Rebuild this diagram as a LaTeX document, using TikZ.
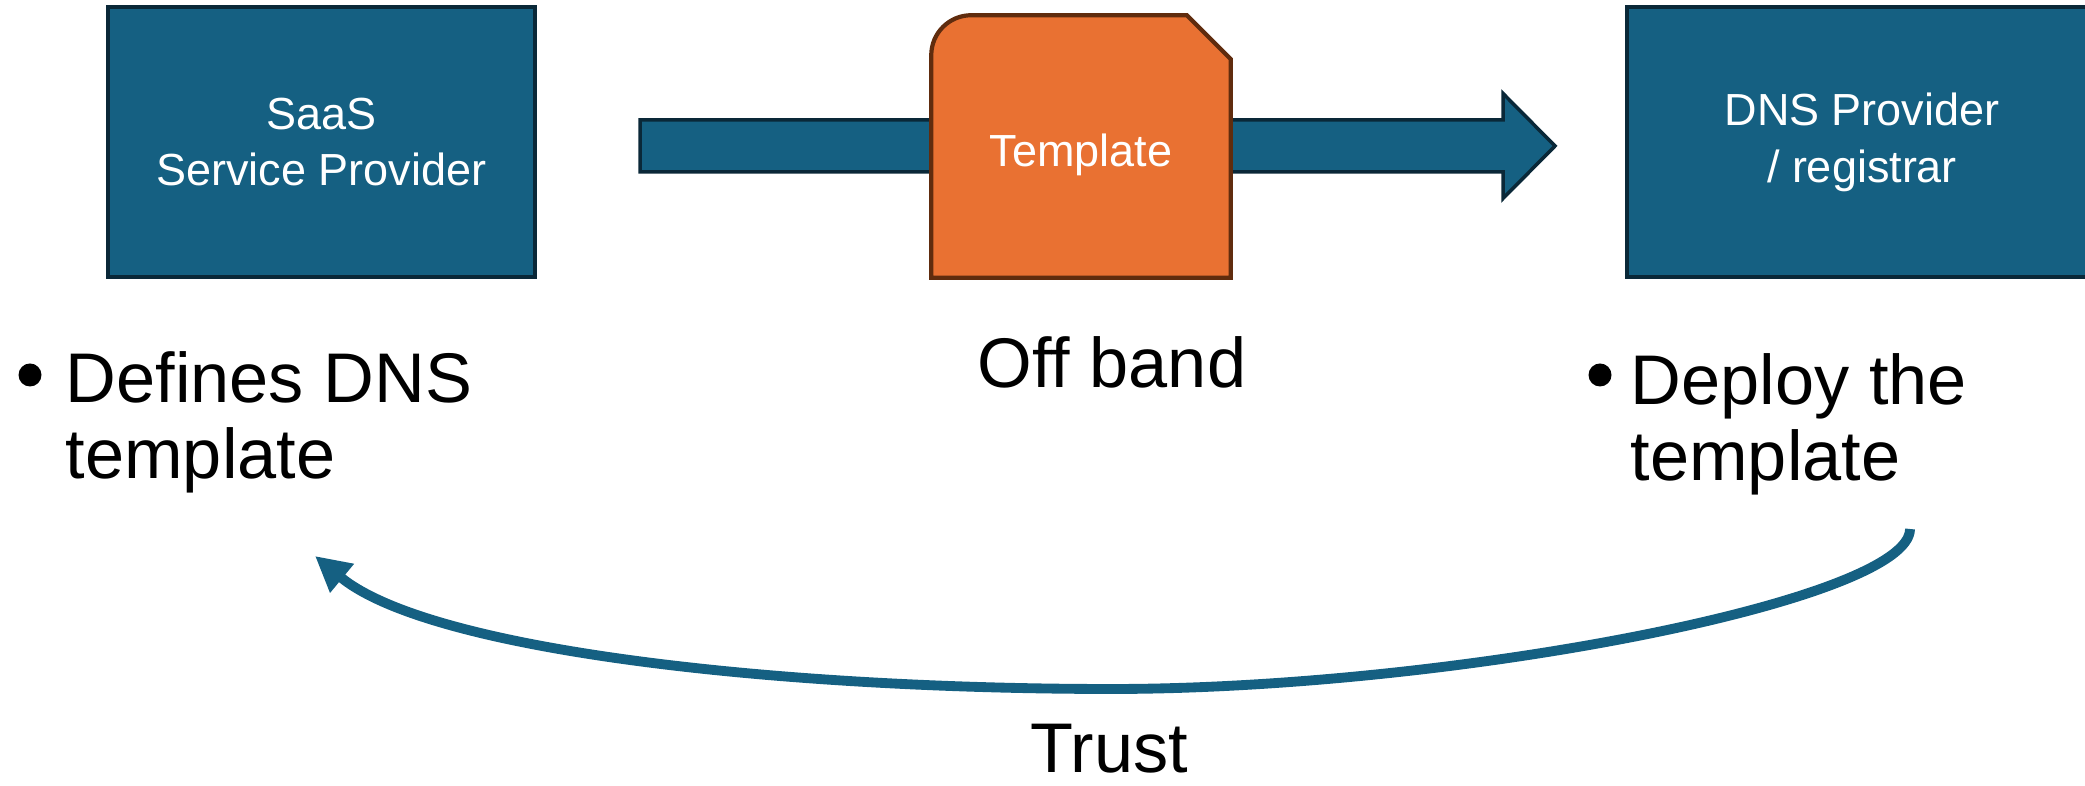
\documentclass[tikz,border=0pt]{standalone}
\usepackage{fontspec}
\setmainfont{Liberation Sans}
\usepackage{tikz}
\usetikzlibrary{
  arrows.meta,
  positioning,
  calc
}
\definecolor{saas_blue}{RGB}{21, 96, 130}
\definecolor{edge_navy}{RGB}{10, 40, 56}
\definecolor{tmpl_orange}{RGB}{233, 113, 50}
\definecolor{tmpl_brown}{RGB}{96, 44, 14}

\begin{document}
\begin{tikzpicture}[
    % Styles
    font=\fontsize{12.8}{16.2}\selectfont,
    line width=1pt,
    % Blocks
    block/.style={
        rectangle,
        draw=edge_navy,
        fill=saas_blue,
        text=white,
        align=center,
        minimum height=2.70cm,
        inner sep=0pt
    },
    doc_frame/.style={
        rectangle,
        minimum width=2.96cm,
        minimum height=2.59cm,
        inner sep=0pt
    },
    doc_outline/.style={
        draw=tmpl_brown,
        fill=tmpl_orange,
        line width=1.2pt
    },
    flow_body/.style={
        draw=edge_navy,
        fill=saas_blue
    },
    note/.style={
        font=\fontsize{20}{21.5}\selectfont,
        align=left,
        inner sep=0pt
    },
    bullet_dot/.style={
        circle,
        fill=black,
        minimum size=0.23cm,
        inner sep=0pt
    },
    trust_line/.style={
        saas_blue,
        line width=2.8pt,
        -{Triangle[length=10pt, width=10pt]}
    }
]
\useasboundingbox (0,0) rectangle (20.85,7.86);

% --- LAYOUT ---

% 1. Parties (top left / top right)
\node[block, minimum width=4.27cm] (saas) at (3.215,6.44) {SaaS\\Service Provider};
\node[block, minimum width=4.70cm] (dns) at (18.62,6.44) {DNS Provider\\/ registrar};

% 2. Hand-over arrow (drawn under the template)
\coordinate (flow_start) at (6.40,6.40);
\coordinate (flow_tip) at (15.55,6.40);
\draw[flow_body] ($(flow_start)+(0,0.26)$) -- ($(flow_tip)+(-0.52,0.26)$)
    -- ($(flow_tip)+(-0.52,0.525)$) -- (flow_tip) -- ($(flow_tip)+(-0.52,-0.525)$)
    -- ($(flow_tip)+(-0.52,-0.26)$) -- ($(flow_start)+(0,-0.26)$) -- cycle;

% 3. Template document (round corner top left, snipped top right)
\node[doc_frame] (tmpl) at (10.81,6.395) {};
\draw[doc_outline] (tmpl.south west) -- ([yshift=-0.40cm]tmpl.north west)
    arc[start angle=180, end angle=90, radius=0.40cm]
    -- ([xshift=-0.44cm]tmpl.north east) -- ([yshift=-0.44cm]tmpl.north east)
    -- (tmpl.south east) -- cycle;
\node[text=white] (tmpl_text) at ([yshift=-0.08cm]tmpl.center) {Template};

% --- NOTES ---

\node[bullet_dot] (saas_dot) at (0.30,4.11) {};
\node[note, anchor=north west] (saas_note) at (0.64,4.36) {Defines DNS\\template};

\node[note, anchor=base] (band) at (11.12,3.98) {Off band};

\node[bullet_dot] (dns_dot) at (16.00,4.11) {};
\node[note, anchor=north west] (dns_note) at (16.29,4.34) {Deploy the\\template};

% --- TRUST LOOP ---

\coordinate (trust_from) at (19.10,2.57);
\coordinate (trust_low) at (11.12,0.97);
\coordinate (trust_to) at (3.15,2.30);
\draw[trust_line] (trust_from) .. controls (19.10,1.85) and (14.5,0.97) .. (trust_low)
    .. controls (7.8,0.97) and (4.3,1.35) .. (trust_to);

\node[note, anchor=base] (trust) at (11.09,0.13) {Trust};

\end{tikzpicture}
\end{document}
